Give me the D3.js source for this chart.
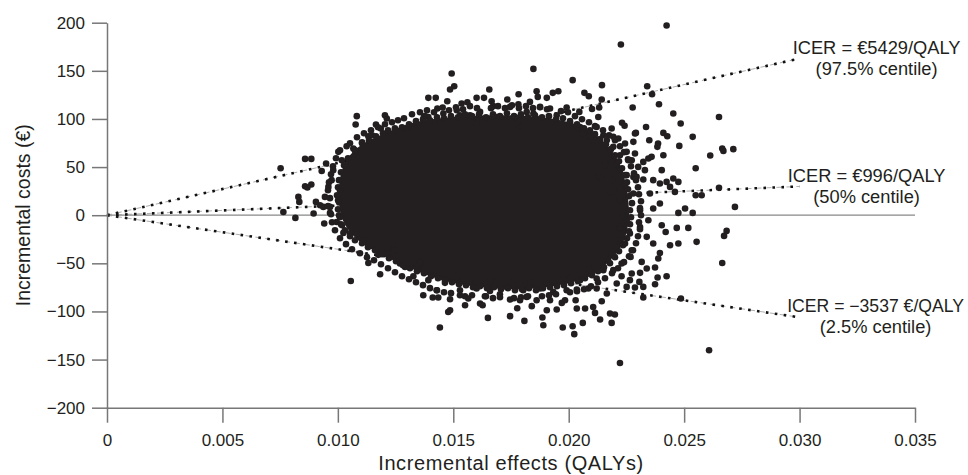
<!DOCTYPE html>
<html>
<head>
<meta charset="utf-8">
<script src="https://cdn.jsdelivr.net/npm/d3@7"></script>
<style>
  body { margin: 0; background: #fff; }
  svg { display: block; font-family: "Liberation Sans", Arial, sans-serif; }
  .tick line, .domain { stroke: #777; stroke-width: 1.5; }
</style>
</head>
<body>
<div id="chart"></div>
<script>
const xTicks = [0, 0.005, 0.010, 0.015, 0.020, 0.025, 0.030, 0.035]
const yTicks = [-200, -150, -100, -50, 0, 50, 100, 150, 200]

// ICER lines drawn from the origin (slope in euro per QALY)
const icerLines = [
    { value: 5429, label: "ICER = €5429/QALY", centile: "(97.5% centile)" },
    { value: 996, label: "ICER = €996/QALY", centile: "(50% centile)" },
    { value: -3537, label: "ICER = −3537 €/QALY", centile: "(2.5% centile)" }
]
const icerEndX = 0.030

// solid region where the bootstrap replicates overlap completely
const coreOutline = [
    [0.010136, 0], [0.010049, 26.0], [0.010179, 46.8], [0.010526, 62.3], [0.011132, 74.8],
    [0.012042, 85.2], [0.013341, 96.6], [0.014857, 101.8], [0.016590, 103.9], [0.018323, 102.9],
    [0.019839, 97.7], [0.020922, 87.3], [0.021615, 73.8], [0.022178, 55.1], [0.022481, 31.2],
    [0.022611, 0], [0.022394, -26.0], [0.021875, -44.7], [0.020922, -63.4], [0.019536, -72.7],
    [0.017889, -76.9], [0.016244, -74.8], [0.014857, -69.6], [0.013558, -59.2], [0.012475, -47.8],
    [0.011392, -34.3], [0.010612, -19.7]
]

// individual replicates (incremental effect, incremental cost)
const replicates = [
    [0.01082,102.9],[0.01077,94.2],[0.01204,103.9],[0.01212,100.5],[0.01165,94.2],[0.01186,90.1],[0.01132,82.1],[0.00858,58.5],[0.00885,58.5],[0.00752,48.8],
    [0.00949,53.7],[0.00930,46.0],[0.01002,65.8],[0.01038,71.7],[0.00858,30.1],[0.00885,31.9],[0.00868,28.8],[0.00829,19.0],[0.00833,13.8],[0.00905,13.8],
    [0.00923,10.4],[0.00937,8.6],[0.00764,3.4],[0.00816,-2.8],[0.00895,1.8],[0.00966,2.4],[0.00941,-8.6],[0.00995,-7.0],[0.01024,-18.4],[0.01082,-19.0],
    [0.01110,-26.0],[0.01132,-49.6],[0.01183,-61.3],[0.01056,-68.3],[0.01175,-41.2],[0.00944,19.0],[0.00973,36.4],[0.00959,29.4],[0.00980,46.8],[0.01017,57.1],
    [0.00966,8.6],
    [0.01493,147.2],[0.01504,134.0],[0.01486,130.6],[0.01847,152.0],[0.01392,121.9],[0.01424,121.9],[0.01656,130.6],[0.01601,121.9],[0.01633,121.9],[0.01783,125.7],
    [0.01734,120.2],[0.01861,128.8],[0.01866,122.9],[0.01876,112.5],[0.01931,127.1],[0.01955,128.8],[0.01905,121.9],[0.01431,110.9],[0.01454,111.9],[0.01474,118.4],
    [0.01536,116.1],[0.01561,117.4],[0.01666,118.4],[0.01673,113.3],[0.01782,115.3],[0.01832,117.7],[0.01818,107.3],[0.01991,111.9],[0.01373,102.1],[0.01392,102.1],
    [0.01327,90.1],[0.01616,107.3],[0.01746,112.5],[0.01919,110.9],[0.01515,109.1],[0.01702,102.1],[0.01572,103.9],
    [0.02226,177.4],[0.02017,140.3],[0.02144,135.1],[0.02068,127.1],[0.02087,123.6],[0.02143,120.2],[0.02277,111.9],[0.02101,110.4],[0.02132,111.9],[0.02046,107.3],
    [0.01067,69.3],[0.02128,102.1],[0.02121,91.7],[0.02186,90.1],[0.02231,96.0],[0.02287,84.9],[0.02280,76.2],[0.02244,74.5],[0.02193,81.4],[0.02215,79.7],
    [0.02150,83.1],[0.02258,57.1],[0.02287,64.1],[0.02222,62.3],[0.02193,71.0],[0.02171,60.6],[0.02280,39.8],[0.02244,31.2],[0.02222,46.8],[0.02049,91.7],
    [0.02424,197.1],[0.02340,134.0],[0.02361,125.7],[0.02391,115.3],[0.02453,105.7],[0.02485,95.3],[0.02651,102.1],[0.02335,91.7],[0.02242,93.0],[0.02410,85.5],
    [0.02427,82.1],[0.02537,81.4],[0.02291,85.5],[0.02349,77.9],[0.02387,74.5],[0.02384,71.0],[0.02479,72.0],[0.02410,62.3],[0.02613,62.0],[0.02665,69.3],
    [0.02670,66.8],[0.02713,68.6],[0.02550,48.8],[0.02323,55.4],[0.02345,58.9],[0.02359,60.6],[0.02251,65.8],[0.02273,57.1],[0.02301,50.2],[0.02330,46.8],
    [0.02403,46.8],[0.02251,41.6],[0.02294,39.8],[0.02323,37.1],[0.02366,36.4],[0.02395,32.9],[0.02424,34.6],[0.02453,38.1],[0.02475,34.6],[0.02439,29.4],
    [0.02460,24.2],[0.02352,22.5],[0.02280,22.5],[0.02651,28.4],[0.02550,20.8],[0.02576,20.8],[0.02222,27.7],[0.02179,24.2],[0.02136,39.8],[0.02106,46.8],
    [0.02208,53.7],[0.02165,77.9],[0.02106,71.0],
    [0.02720,8.6],[0.02518,-13.2],[0.02468,-13.2],[0.02684,-16.3],[0.02673,-21.5],[0.02537,2.4],[0.02504,7.0],
    [0.02475,2.4],[0.02554,-27.7],[0.02475,-29.4],[0.02439,-31.2],[0.02420,-17.4],[0.02403,-10.4],[0.02366,-29.4],[0.02395,-39.2],[0.02388,-45.0],[0.02665,-49.6],
    [0.02424,-63.4],[0.02385,-64.7],[0.02374,-71.7],[0.02374,-54.3],[0.02338,-55.4],[0.02316,-48.5],[0.02309,-59.9],[0.02273,-60.6],[0.02265,-67.5],[0.02306,-69.3],
    [0.02323,-74.5],[0.02287,-75.1],[0.02251,-74.5],[0.02229,-63.4],[0.02208,-71.0],[0.02273,-36.4],[0.02268,-43.3],[0.02229,-50.2],[0.02323,-85.5],[0.02486,-86.5],
    [0.02165,-81.4],[0.02143,-89.4],[0.02121,-76.2],[0.02085,-76.2],[0.02106,-95.3],[0.02114,-101.5],[0.02071,-96.9],[0.02035,-96.9],[0.02030,-88.3],[0.02179,-102.1],
    [0.02200,-103.2],[0.02186,-111.9],[0.02136,-108.4],[0.02061,-111.9],[0.02017,-115.3],[0.01974,-116.7],[0.02024,-123.6],[0.02608,-140.3],[0.02222,-153.5],[0.01984,-88.3],
    [0.02035,-77.2],[0.01991,-67.5],[0.02049,-67.5],[0.02121,-65.8],[0.02150,-57.1],[0.02193,-57.1],[0.02171,-46.8],[0.02106,-53.7],[0.02215,-26.0],[0.02265,-19.0],
    [0.02309,-12.2],[0.02345,-5.2],[0.02366,7.0],[0.02395,12.2],[0.02309,5.2],[0.02251,-5.2],[0.02222,-12.2],[0.02338,-22.5],[0.02244,-29.4],
    [0.01442,-116.7],[0.01650,-106.7],[0.01746,-104.9],[0.01808,-109.8],[0.01886,-106.3],[0.01890,-114.3],[0.01486,-98.7],[0.01478,-100.5],[0.01551,-93.5],[0.01616,-91.7],
    [0.01627,-93.5],[0.01777,-96.6],[0.01905,-98.7],[0.01948,-98.0],[0.01840,-94.5],[0.01370,-83.1],[0.01411,-85.5],[0.01435,-85.5],[0.01428,-77.9],[0.01486,-87.3],
    [0.01529,-83.1],[0.01565,-86.5],[0.01637,-84.2],[0.01702,-82.1],[0.01746,-87.6],[0.01789,-88.3],[0.01818,-84.9],[0.01861,-88.3],[0.01919,-88.3],[0.01970,-91.1],
    [0.01269,-50.2],[0.01291,-53.7],[0.01327,-63.4],[0.01392,-67.5],[0.01464,-70.3],[0.01529,-77.9],[0.01601,-76.2],[0.01659,-78.7],[0.01731,-74.5],[0.01803,-77.9],
    [0.01876,-76.2],[0.01933,-79.7],[0.01991,-77.9],[0.01442,-60.6],[0.01515,-64.1],[0.01572,-69.3],[0.01688,-69.3],[0.01760,-67.5],[0.01847,-69.3],[0.01905,-71.0],
    [0.01962,-67.5],[0.01212,-39.8],[0.01240,-32.9],[0.01370,-57.1],[0.01342,-53.7],
    [0.01377,102.9],[0.01457,105.7],[0.01529,103.9],[0.01688,102.1],[0.01767,102.1],[0.01847,105.7],[0.01948,103.9],[0.02006,95.3],[0.02063,84.9],[0.01298,90.1],
    [0.01442,93.5],[0.01601,95.3],[0.01789,91.7],[0.02035,90.1],[0.02092,81.4],
    [0.01009,26.0],[0.01001,15.6],[0.01005,0],[0.01018,-10.4],[0.01053,-18.7],[0.01074,67.5],[0.01105,75.8],[0.01148,83.1],[0.01247,90.4],
    [0.01247,-36.4],[0.01356,-48.8],[0.01486,-59.2],[0.01659,-67.5],[0.01832,-69.6],[0.02006,-64.4],[0.02092,-57.1],[0.02157,-41.6],[0.02200,-26.0],
    [0.02222,15.6],[0.02235,0],[0.02222,-13.5],[0.02187,36.4],[0.02157,51.9],
    // replicates crowding the rim of the dense core
    [0.012475,88.3],[0.012778,91.4],[0.013081,94.5],[0.013385,97.7],[0.013688,99.7],[0.013991,98.7],[0.014294,101.8],[0.014598,100.8],[0.014901,102.9],[0.015204,101.8],
    [0.015507,104.9],[0.015810,102.9],[0.016114,104.9],[0.016417,101.8],[0.016720,104.9],[0.017023,102.9],[0.017326,106.0],[0.017630,102.9],[0.017933,104.9],[0.018236,101.8],
    [0.018539,103.9],[0.018842,101.8],[0.019146,102.9],[0.019449,99.7],[0.019752,100.8],[0.020055,97.7],[0.020359,94.5],[0.020662,90.4],[0.020922,88.3],
    [0.010742,67.5],[0.011046,74.8],[0.011349,77.9],[0.011652,82.1],[0.011955,85.2],[0.012172,88.3],
    [0.010439,59.2],[0.010266,51.9],[0.010136,44.7],[0.010049,36.4],[0.010006,29.1],[0.009963,20.8],[0.010049,13.5],[0.010006,6.2],[0.010093,-2.1],[0.010136,-9.4],
    [0.010309,-15.6],[0.010526,-21.8],[0.010742,-26.0],
    [0.011046,-29.1],[0.011305,-33.2],[0.011609,-36.4],[0.011912,-40.5],[0.012215,-44.7],[0.012518,-47.8],[0.012822,-52.0],[0.013125,-55.1],[0.013428,-58.2],[0.013731,-60.3],
    [0.014034,-63.4],[0.014338,-65.5],[0.014641,-67.5],[0.014944,-69.6],[0.015247,-71.7],[0.015550,-72.7],[0.015854,-74.8],[0.016157,-73.8],[0.016460,-75.8],[0.016763,-74.8],
    [0.017067,-76.9],[0.017370,-75.8],[0.017673,-77.9],[0.017976,-76.9],[0.018279,-75.8],[0.018583,-77.9],[0.018886,-75.8],[0.019189,-74.8],[0.019492,-73.8],[0.019795,-72.7],
    [0.020099,-70.7],[0.020402,-68.6],[0.020705,-65.5],[0.021008,-62.3],[0.021268,-58.2],[0.021528,-54.0],[0.021788,-49.9],[0.022005,-43.6],[0.022178,-37.4],[0.022351,-31.2],
    [0.022524,-23.9],[0.022611,-16.6],[0.022654,-9.4],[0.022697,-2.1],[0.022654,5.2],[0.022741,12.5],[0.022611,19.7],[0.022568,27.0],[0.022524,34.3],[0.022438,41.6],
    [0.022308,48.8],[0.022178,56.1],[0.022005,62.3],[0.021831,68.6],[0.021615,73.8],[0.021355,79.0],[0.021138,84.2],
    // second, looser band around the rim
    [0.012865,100.8],[0.013211,104.9],[0.013558,107.0],[0.013861,109.1],[0.014164,107.0],[0.014814,109.1],[0.015117,112.2],[0.015420,110.1],[0.015724,113.3],
    [0.016027,111.2],[0.016633,111.2],[0.016937,113.3],[0.017240,111.2],[0.017543,114.3],[0.017846,111.2],[0.018149,113.3],[0.018453,111.2],[0.018756,112.2],
    [0.019059,110.1],[0.019665,108.1],[0.019969,107.0],[0.020272,102.9],[0.020575,99.7],[0.020878,96.6],[0.021138,92.5],
    [0.010526,74.8],[0.010829,81.0],[0.011132,85.2],[0.011435,88.3],[0.011739,91.4],[0.012042,94.5],[0.012345,96.6],[0.012605,98.7],
    [0.010093,67.5],[0.009919,59.2],[0.009789,50.9],[0.009703,42.6],[0.009616,34.3],[0.009573,26.0],[0.009659,17.7],[0.009573,9.4],[0.009703,1.0],[0.009746,-7.3],
    [0.009876,-15.6],[0.010093,-23.9],[0.010353,-30.1],[0.010612,-35.3],
    [0.010959,-39.5],[0.011262,-43.6],[0.011565,-46.8],[0.011869,-50.9],[0.012172,-55.1],[0.012475,-59.2],[0.012778,-63.4],[0.013081,-66.5],[0.013385,-69.6],[0.013688,-72.7],
    [0.013991,-75.8],[0.014294,-77.9],[0.014598,-80.0],[0.014901,-81.0],[0.015507,-84.2],[0.015810,-83.1],[0.016417,-84.2],[0.016720,-86.2],
    [0.017023,-85.2],[0.017630,-86.2],[0.017933,-85.2],[0.018236,-84.2],[0.018842,-84.2],[0.019146,-83.1],[0.019449,-82.1],
    [0.020055,-80.0],[0.020359,-79.0],[0.020662,-76.9],[0.020965,-73.8],[0.021268,-69.6],[0.021571,-65.5],[0.021875,-60.3],[0.022134,-55.1],[0.022394,-48.8],[0.022611,-42.6],[0.022784,-36.4],
    [0.022914,-29.1],[0.023001,-21.8],[0.023087,-14.5],[0.023044,-7.3],[0.023131,0],[0.023087,7.3],[0.023131,14.5],[0.023044,21.8],[0.023001,29.1],[0.022914,36.4],
    [0.022828,43.6],[0.022698,50.9],[0.022568,58.2],[0.022394,65.5],[0.022221,71.7],[0.022005,77.9],[0.021745,83.1],[0.021485,88.3]
]

const WIDTH = 968
const HEIGHT = 475
const dotColor = '#231f20'
const textColor = '#231f20'

const svg = d3.select('#chart').append('svg')
    .attr('width', WIDTH)
    .attr('height', HEIGHT)

const xscale = d3.scaleLinear().domain([0, 0.035]).range([107, 915])
const yscale = d3.scaleLinear().domain([-200, 200]).range([407.7, 22.7])

// zero cost line
svg.append('line')
    .attr('x1', xscale(0)).attr('x2', xscale(0.035))
    .attr('y1', yscale(0)).attr('y2', yscale(0))
    .style('stroke', '#888').style('stroke-width', 1.3)

// ICER rays: thin grey dashes under black dots
icerLines.forEach(function (d) {
    const x2 = xscale(icerEndX), y2 = yscale(d.value * icerEndX)
    svg.append('line')
        .attr('x1', xscale(0)).attr('y1', yscale(0)).attr('x2', x2).attr('y2', y2)
        .style('stroke', '#999').style('stroke-width', 0.8)
        .style('stroke-dasharray', '5,5')
    svg.append('line')
        .attr('x1', xscale(0)).attr('y1', yscale(0)).attr('x2', x2).attr('y2', y2)
        .style('stroke', '#111').style('stroke-width', 2.6)
        .style('stroke-dasharray', '2.6,6.4')
})

// dense core of the cloud
svg.append('path')
    .datum(coreOutline)
    .attr('d', d3.line().x(d => xscale(d[0])).y(d => yscale(d[1])).curve(d3.curveCardinalClosed))
    .style('fill', dotColor)

svg.append('g').selectAll('circle')
    .data(replicates)
    .join('circle')
    .attr('cx', d => xscale(d[0]))
    .attr('cy', d => yscale(d[1]))
    .attr('r', 3.3)
    .style('fill', dotColor)

// axes
svg.append('g')
    .attr('transform', 'translate(0,' + yscale(-200) + ')')
    .call(d3.axisBottom(xscale).tickValues(xTicks).tickSize(15).tickSizeOuter(0).tickPadding(11)
        .tickFormat(d => d === 0 ? '0' : d3.format('.3f')(d)))

svg.append('g')
    .attr('transform', 'translate(' + xscale(0) + ',0)')
    .call(d3.axisLeft(yscale).tickValues(yTicks).tickSize(15).tickSizeOuter(0).tickPadding(7))

svg.selectAll('.tick text')
    .attr('font-family', null)
    .attr('font-size', null)
    .style('font-size', '17px').style('fill', textColor)

// axis titles
svg.append('text')
    .attr('x', (xscale(0) + xscale(0.035)) / 2)
    .attr('y', 470)
    .attr('text-anchor', 'middle')
    .style('font-size', '20px').style('letter-spacing', '0.6px').style('fill', textColor)
    .text('Incremental effects (QALYs)')

svg.append('text')
    .attr('transform', 'translate(30,' + yscale(0) + ') rotate(-90)')
    .attr('text-anchor', 'middle')
    .style('font-size', '19.5px').style('fill', textColor)
    .text('Incremental costs (€)')

// ICER labels
const labelStyles = [
    { dx: 77, dy: -4.5, size: 18.3 },
    { dx: 67, dy: -4.5, size: 18.3 },
    { dx: 76, dy: -5.5, size: 17.6 }
]
icerLines.forEach(function (d, i) {
    const s = labelStyles[i]
    const x = xscale(icerEndX) + s.dx
    const y = yscale(d.value * icerEndX) + s.dy
    const t = svg.append('text')
        .attr('text-anchor', 'middle')
        .style('font-size', s.size + 'px').style('fill', textColor)
    t.append('tspan').attr('x', x).attr('y', y).text(d.label)
    t.append('tspan').attr('x', x).attr('y', y + 21).style('font-size', '18.3px').text(d.centile)
})
</script>
</body>
</html>
